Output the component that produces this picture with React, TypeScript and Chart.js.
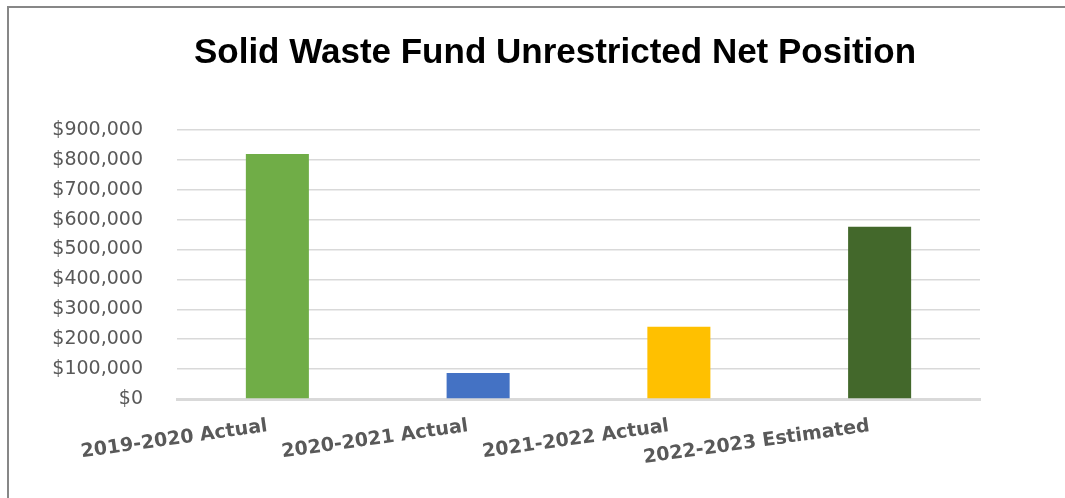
import React, { useEffect, useRef } from "react";
import { Chart, registerables } from "chart.js";

Chart.register(...registerables);

const categories = [
  "2019-2020 Actual",
  "2020-2021 Actual",
  "2021-2022 Actual",
  "2022-2023 Estimated",
];
const values = [820000, 87000, 242000, 576000];
const barColors = ["#70AD47", "#4472C4", "#FFC000", "#43682B"];
const titleText = "Solid Waste Fund Unrestricted Net Position";
const yMax = 900000;
const yStep = 100000;

function formatMoney(v: number): string {
  return "$" + Math.round(v).toLocaleString("en-US");
}

export default function App() {
  const canvasRef = useRef<HTMLCanvasElement | null>(null);

  useEffect(() => {
    if (!canvasRef.current) return;
    const chart = new Chart(canvasRef.current, {
      type: "bar",
      data: {
        labels: categories,
        datasets: [
          {
            data: values,
            backgroundColor: barColors,
            borderWidth: 0,
            barPercentage: 0.314,
            categoryPercentage: 1,
            yAxisID: "y",
          },
        ],
      },
      options: {
        responsive: false,
        animation: false,
        devicePixelRatio: 1,
        layout: { padding: { top: 0, left: 45, right: 0, bottom: 0 } },
        plugins: {
          legend: { display: false },
          tooltip: { enabled: false },
          title: {
            display: true,
            text: titleText,
            color: "#000000",
            font: { family: "'Liberation Sans', Arial, sans-serif", size: 35, weight: "bold" },
            padding: { top: 32, bottom: 56 },
          },
        },
        scales: {
          x: {
            grid: { display: false, drawTicks: false },
            border: { display: true, color: "#d9d9d9", width: 3 },
            ticks: {
              minRotation: 8,
              maxRotation: 8,
              autoSkip: false,
              padding: 16,
              labelOffset: -10,
              color: "#595959",
              font: { family: "'DejaVu Sans', sans-serif", size: 19, weight: "bold" },
            },
            afterFit: (scale: any) => {
              scale.height = 99;
            },
          },
          y: {
            min: 0,
            max: yMax,
            grid: { color: "#d9d9d9", lineWidth: 1.5, drawTicks: false },
            border: { display: false },
            ticks: {
              stepSize: yStep,
              padding: 34,
              color: "#595959",
              font: { family: "'DejaVu Sans', sans-serif", size: 19 },
              callback: (v: any) => formatMoney(Number(v)),
            },
            afterFit: (scale: any) => {
              scale.width = 132;
            },
          },
          yRight: {
            position: "right",
            display: true,
            grid: { display: false, drawTicks: false },
            border: { display: false },
            ticks: { display: false },
            afterFit: (scale: any) => {
              scale.width = 85;
            },
          },
        },
      },
    });
    return () => chart.destroy();
  }, []);

  return (
    <div
      style={{
        position: "absolute",
        left: 0,
        top: 0,
        width: 1065,
        height: 498,
        overflow: "hidden",
        background: "#ffffff",
      }}
    >
      <div
        style={{
          position: "absolute",
          left: 7,
          top: 6,
          width: 2000,
          height: 2000,
          borderLeft: "2px solid #878787",
          borderTop: "2px solid #878787",
          boxSizing: "border-box",
        }}
      />
      <canvas
        ref={canvasRef}
        width={1065}
        height={498}
        style={{ position: "absolute", left: 0, top: 0 }}
      />
    </div>
  );
}
